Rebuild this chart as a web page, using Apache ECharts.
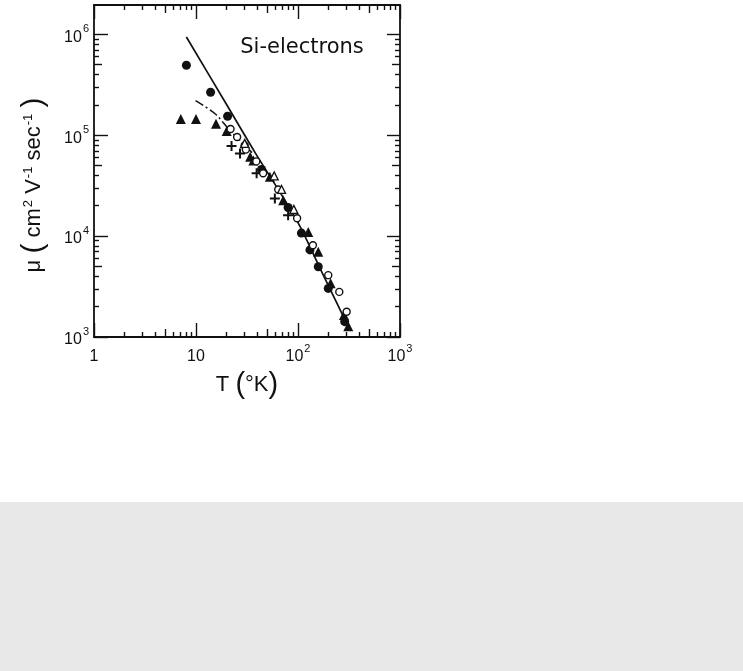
<!DOCTYPE html>
<html><head><meta charset="utf-8">
<script src="https://cdn.jsdelivr.net/npm/echarts@6/dist/echarts.min.js"></script>
<style>html,body{margin:0;padding:0;background:#e8e8e8;} #c{width:743px;height:502px;background:#fff;}</style>
</head><body><div id="c"></div>
<script>
// ---- data (T in K, mobility in cm^2/V/s) ----
const solidT  = [8.05, 20, 37.7, 97, 177, 323];
const solidMu = [9.4e5, 2.0e5, 6.8e4, 1.44e4, 4.1e3, 1.17e3];
const dashT   = [9.9, 15.3, 21.4, 30, 37];
const dashMu  = [2.2e5, 1.64e5, 1.12e5, 8.0e4, 6.4e4];
const filledCircleT  = [8.05, 13.9, 20.4, 43.9, 80, 108, 131, 158, 198, 287];
const filledCircleMu = [4.93e5, 2.66e5, 1.54e5, 4.57e4, 1.92e4, 1.07e4, 7.3e3, 4.97e3, 3.03e3, 1.42e3];
const filledTriT  = [7.1, 10, 15.7, 20, 34, 36.5, 53, 71.6, 126, 158, 209, 282, 311];
const filledTriMu = [1.45e5, 1.45e5, 1.3e5, 1.1e5, 6.1e4, 5.6e4, 3.87e4, 2.27e4, 1.1e4, 7.0e3, 3.4e3, 1.65e3, 1.28e3];
const openCircleT  = [21.8, 25.3, 30, 30.8, 39, 45.5, 64, 98, 140, 198, 254, 300];
const openCircleMu = [1.15e5, 9.6e4, 7.9e4, 7.2e4, 5.5e4, 4.2e4, 2.9e4, 1.5e4, 8.1e3, 4.1e3, 2.8e3, 1.78e3];
const openTriT  = [30, 58.4, 69, 91];
const openTriMu = [8.3e4, 3.95e4, 2.9e4, 1.84e4];
const crossT  = [22.3, 27, 39.3, 59.3, 80];
const crossMu = [7.8e4, 6.6e4, 4.2e4, 2.36e4, 1.61e4];

// ---- axis ticks ----
const xMajorTicks = [1, 10, 100, 1000];
const xMidTicks = [5, 50, 500];
const xMinorTicks = [2,3,4,6,7,8,9, 20,30,40,60,70,80,90, 200,300,400,600,700,800,900];
const yMajorTicks = [1e3, 1e4, 1e5, 1e6];
const yMidTicks = [5e3, 5e4, 5e5];
const yMinorTicks = [2e3,3e3,4e3,6e3,7e3,8e3,9e3, 2e4,3e4,4e4,6e4,7e4,8e4,9e4, 2e5,3e5,4e5,6e5,7e5,8e5,9e5];
const xMin = 1, xMax = 1000, yMin = 1e3, yMax = 1.95e6;

const zip = (a, b) => a.map((v, i) => [v, b[i]]);
const ink = '#111111';
const FONT = 'Liberation Sans';

function xLab(v) {
  const e = Math.round(Math.log10(v));
  if (e === 0) return '{b|1}';
  if (e === 1) return '{b|10}';
  return '{b|10}{s|' + e + '}';
}
function yLab(v) {
  const e = Math.round(Math.log10(v));
  return '{b|10}{s|' + e + '}';
}
const richLab = {
  b: {fontSize: 16, fontFamily: FONT, color: ink, lineHeight: 22, verticalAlign: 'bottom'},
  s: {fontSize: 11, fontFamily: FONT, color: ink, lineHeight: 22, verticalAlign: 'top', padding: [0,0,0,1]}
};

function xAx(pos, ticks, len, main) {
  return {
    type: 'log', position: pos, min: xMin, max: xMax, gridIndex: 0,
    axisLine: {show: main, lineStyle: {color: ink, width: 1.8}},
    axisTick: {show: true, inside: true, length: len, customValues: ticks, lineStyle: {color: ink, width: 1.4}},
    axisLabel: {show: false},
    splitLine: {show: false}, minorTick: {show: false}, minorSplitLine: {show: false}
  };
}
function yAx(pos, ticks, len, main) {
  return {
    type: 'log', position: pos, min: yMin, max: yMax, gridIndex: 0,
    axisLine: {show: main, lineStyle: {color: ink, width: 1.8}},
    axisTick: {show: true, inside: true, length: len, customValues: ticks, lineStyle: {color: ink, width: 1.4}},
    axisLabel: {show: false},
    splitLine: {show: false}, minorTick: {show: false}, minorSplitLine: {show: false}
  };
}

const xAxes = [
  xAx('bottom', xMajorTicks, 14, true),
  xAx('bottom', xMidTicks, 8, false),
  xAx('bottom', xMinorTicks, 5, false),
  xAx('top', xMajorTicks, 14, true),
  xAx('top', xMidTicks, 8, false),
  xAx('top', xMinorTicks, 5, false)
];
xAxes[0].axisLabel = {show: true, customValues: xMajorTicks, formatter: xLab, rich: richLab, margin: 6};
xAxes[0].name = 'T {p|(}°K{p|)}';
xAxes[0].nameLocation = 'middle';
xAxes[0].nameGap = 32;
xAxes[0].nameTextStyle = {fontSize: 22, fontFamily: FONT, color: ink, lineHeight: 30,
  rich: {p: {fontSize: 29, fontFamily: FONT, color: ink, lineHeight: 30}}};

const yAxes = [
  yAx('left', yMajorTicks, 14, true),
  yAx('left', yMidTicks, 8, false),
  yAx('left', yMinorTicks, 5, false),
  yAx('right', yMajorTicks, 13, true),
  yAx('right', yMidTicks, 8, false),
  yAx('right', yMinorTicks, 5, false)
];
yAxes[0].axisLabel = {show: true, customValues: yMajorTicks, formatter: yLab, rich: richLab, margin: 5};
yAxes[0].name = 'μ {p|(} cm{s|2} V{s|-1} sec{s|-1} {p|)}';
yAxes[0].nameLocation = 'middle';
yAxes[0].nameGap = 45;
yAxes[0].nameTextStyle = {fontSize: 22, fontFamily: FONT, color: ink, lineHeight: 30, padding: [0, 28, 0, 0],
  rich: {
    p: {fontSize: 30, fontFamily: FONT, color: ink, lineHeight: 30},
    s: {fontSize: 13, fontFamily: FONT, color: ink, lineHeight: 30, verticalAlign: 'top', padding: [3, 0, 0, 1]}
  }};

const chart = echarts.init(document.getElementById('c'), null, {renderer: 'canvas'});
chart.setOption({
  animation: false,
  backgroundColor: '#ffffff',
  grid: {left: 94, right: 343, top: 5, bottom: 165, containLabel: false},
  xAxis: xAxes,
  yAxis: yAxes,
  graphic: [{
    type: 'text', x: 302, y: 48,
    style: {text: 'Si-electrons', font: '21px "DejaVu Sans"', fill: ink, textAlign: 'center', textVerticalAlign: 'middle'}
  }],
  series: [
    {type: 'line', name: 'theory', data: zip(solidT, solidMu), showSymbol: false, symbol: 'none', smooth: 0.3,
     lineStyle: {color: ink, width: 1.7}, z: 3},
    {type: 'line', name: 'dashdot', data: zip(dashT, dashMu), showSymbol: false, symbol: 'none', smooth: 0.3,
     lineStyle: {color: ink, width: 1.5, type: [9, 3, 2, 3]}, z: 3},
    {type: 'scatter', data: zip(filledCircleT, filledCircleMu), symbol: 'circle', symbolSize: 9,
     itemStyle: {color: ink, opacity: 1}, z: 4},
    {type: 'scatter', data: zip(filledTriT, filledTriMu), symbol: 'triangle', symbolSize: 10,
     itemStyle: {color: ink, opacity: 1}, z: 4},
    {type: 'scatter', data: zip(openCircleT, openCircleMu), symbol: 'circle', symbolSize: 7,
     itemStyle: {color: '#ffffff', borderColor: ink, borderWidth: 1.4, opacity: 1}, z: 5},
    {type: 'scatter', data: zip(openTriT, openTriMu), symbol: 'triangle', symbolSize: 8,
     itemStyle: {color: '#ffffff', borderColor: ink, borderWidth: 1.3, opacity: 1}, z: 5},
    {type: 'scatter', data: zip(crossT, crossMu), symbol: 'path://M4,0H6V4H10V6H6V10H4V6H0V4H4Z', symbolSize: 10,
     itemStyle: {color: ink, opacity: 1}, z: 4}
  ]
});
</script>
</body></html>
